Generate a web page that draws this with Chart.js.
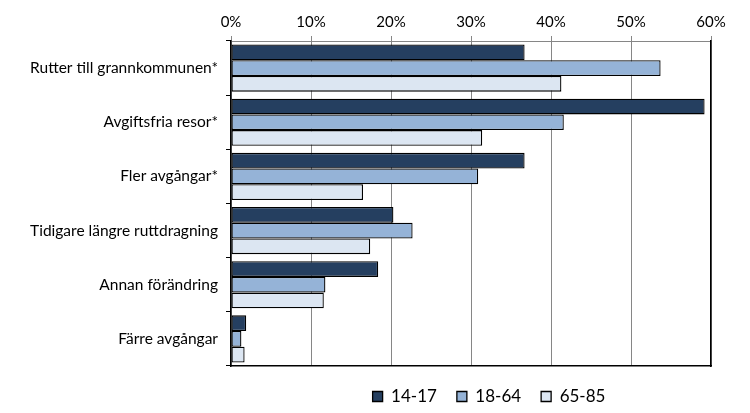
<!DOCTYPE html>
<html>
<head>
<meta charset="utf-8">
<script src="https://cdn.jsdelivr.net/npm/chart.js@4"></script>
<style>
  html, body { margin: 0; padding: 0; background: #fff; }
  #wrap { width: 750px; height: 413px; }
</style>
</head>
<body>
<div id="wrap"><canvas id="chart" width="750" height="413"></canvas></div>
<script>
const categories = [
  'Rutter till grannkommunen*',
  'Avgiftsfria resor*',
  'Fler avgångar*',
  'Tidigare längre ruttdragning',
  'Annan förändring',
  'Färre avgångar'
];
const seriesNames = ['14-17', '18-64', '65-85'];
const values1417 = [36.7, 59.2, 36.7, 20.3, 18.4, 1.9];
const values1864 = [53.7, 41.6, 30.9, 22.7, 11.8, 1.3];
const values6585 = [41.3, 31.4, 16.5, 17.4, 11.6, 1.7];
const xTicks = [0, 10, 20, 30, 40, 50, 60];

const colors = ['#253F60', '#95B3D7', '#DCE6F2'];

// legend sits under the plot area, not the whole canvas
const legendUnderPlot = {
  id: 'legendUnderPlot',
  afterLayout(chart) {
    const lg = chart.legend;
    lg.left = chart.chartArea.left + 18;
    lg.right = chart.chartArea.right + 18;
    lg.top += 2;
    lg.bottom += 2;
  }
};

const ctx = document.getElementById('chart');
new Chart(ctx, {
  type: 'bar',
  data: {
    labels: categories,
    datasets: [values1417, values1864, values6585].map((data, i) => ({
      label: seriesNames[i],
      data,
      backgroundColor: colors[i],
      borderColor: '#000',
      borderWidth: 1.3,
      borderSkipped: false,
      categoryPercentage: 0.87,
      barPercentage: 1
    }))
  },
  options: {
    indexAxis: 'y',
    responsive: false,
    animation: false,
    layout: { padding: { left: 0, right: 39, top: 0, bottom: 0 } },
    scales: {
      x: {
        position: 'top',
        min: 0,
        max: 60,
        afterBuildTicks: axis => { axis.ticks = xTicks.map(v => ({ value: v })); },
        afterFit: axis => { axis.height = 41; },
        ticks: { color: '#000', font: { family: 'Lato', size: 15 }, padding: 5, callback: v => v + '%' },
        grid: { color: '#868686', lineWidth: 1, tickLength: 5 },
        border: { color: '#868686', width: 1 }
      },
      xb: {
        position: 'bottom',
        min: 0,
        max: 60,
        afterFit: axis => { axis.height = 0; },
        ticks: { display: false },
        grid: { display: false },
        border: { color: '#000', width: 1.5 }
      },
      y: {
        afterFit: axis => { axis.width = 231; },
        ticks: { color: '#000', font: { family: 'Lato', size: 15.5 }, padding: 8 },
        grid: { offset: true, drawOnChartArea: false, drawTicks: true, tickLength: 5, color: '#000' },
        border: { color: '#000', width: 1.5 }
      },
      yr: {
        position: 'right',
        afterFit: axis => { axis.width = 0; },
        ticks: { display: false },
        grid: { display: false },
        border: { color: '#000', width: 1.5 }
      }
    },
    plugins: {
      legend: {
        position: 'bottom',
        labels: {
          color: '#000',
          font: { family: 'Lato', size: 17 },
          boxWidth: 10,
          boxHeight: 10,
          padding: 20,
          useBorderRadius: false
        }
      },
      tooltip: { enabled: false }
    }
  },
  plugins: [legendUnderPlot]
});
</script>
</body>
</html>
